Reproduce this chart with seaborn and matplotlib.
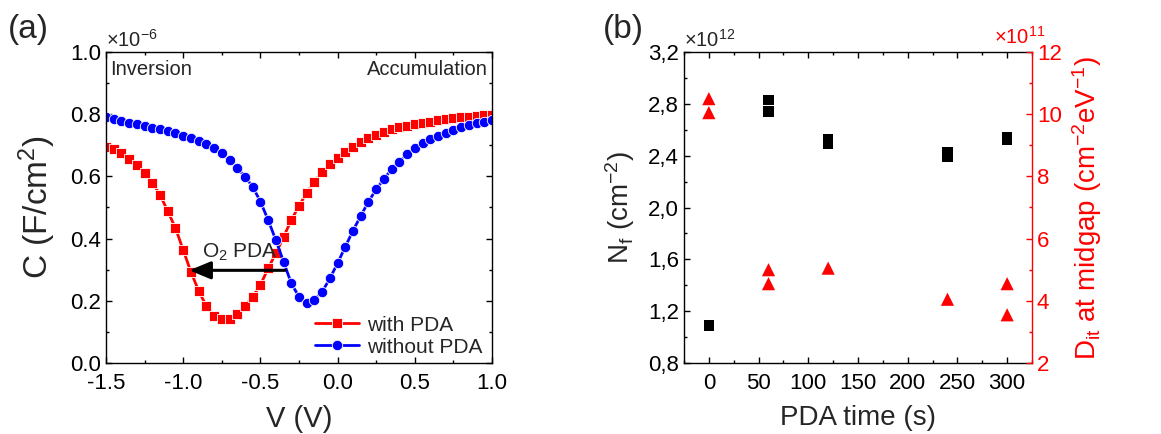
import numpy as np
import matplotlib
matplotlib.use("Agg")
import matplotlib.pyplot as plt
from matplotlib.ticker import MultipleLocator, FuncFormatter
import seaborn as sns

# panel (a): C-V curves, capacitance in units of 1e-6 F/cm2
voltage = [-1.5, -1.45, -1.4, -1.35, -1.3, -1.25, -1.2, -1.15, -1.1, -1.05,
           -1.0, -0.95, -0.9, -0.85, -0.8, -0.75, -0.7, -0.65, -0.6, -0.55,
           -0.5, -0.45, -0.4, -0.35, -0.3, -0.25, -0.2, -0.15, -0.1, -0.05,
           0.0, 0.05, 0.1, 0.15, 0.2, 0.25, 0.3, 0.35, 0.4, 0.45,
           0.5, 0.55, 0.6, 0.65, 0.7, 0.75, 0.8, 0.85, 0.9, 0.95, 1.0]
c_with_pda = [0.696, 0.687, 0.674, 0.656, 0.636, 0.612, 0.580, 0.541, 0.488, 0.434,
              0.363, 0.293, 0.232, 0.183, 0.151, 0.142, 0.143, 0.156, 0.183, 0.213,
              0.251, 0.304, 0.353, 0.405, 0.460, 0.505, 0.548, 0.583, 0.615, 0.640,
              0.658, 0.679, 0.696, 0.710, 0.724, 0.734, 0.742, 0.751, 0.758, 0.763,
              0.768, 0.772, 0.776, 0.780, 0.784, 0.787, 0.790, 0.792, 0.794, 0.796, 0.798]
c_without_pda = [0.790, 0.784, 0.778, 0.773, 0.768, 0.762, 0.757, 0.751, 0.746, 0.739,
                 0.731, 0.722, 0.714, 0.703, 0.690, 0.674, 0.653, 0.627, 0.599, 0.567,
                 0.519, 0.460, 0.395, 0.326, 0.256, 0.213, 0.194, 0.203, 0.229, 0.272,
                 0.321, 0.374, 0.426, 0.473, 0.519, 0.558, 0.592, 0.623, 0.647, 0.671,
                 0.690, 0.706, 0.719, 0.731, 0.741, 0.749, 0.758, 0.765, 0.771, 0.776, 0.780]

# panel (b): fixed charge (1e12 cm-2) and Dit (1e11 cm-2 eV-1) vs PDA time
time_nf = [0, 0, 60, 60, 120, 120, 240, 240, 300, 300]
nf = [1.093, 1.083, 2.83, 2.74, 2.53, 2.49, 2.43, 2.39, 2.54, 2.525]
time_dit = [0, 0, 60, 60, 120, 240, 300, 300]
dit = [10.5, 10.05, 5.0, 4.55, 5.05, 4.05, 4.55, 3.55]

sns.set_theme(style="ticks")
plt.rcParams["font.family"] = ["Liberation Sans", "DejaVu Sans"]
plt.rcParams["mathtext.fontset"] = "custom"
plt.rcParams["mathtext.rm"] = "Liberation Sans"
plt.rcParams["mathtext.it"] = "Liberation Sans:italic"
plt.rcParams["mathtext.bf"] = "Liberation Sans:bold"
plt.rcParams["axes.unicode_minus"] = False
plt.rcParams["axes.linewidth"] = 1.0
plt.rcParams["axes.edgecolor"] = "black"

W, H = 1161, 434
fig = plt.figure(figsize=(W / 100, H / 100), dpi=100)
ax1 = fig.add_axes([106 / W, 1 - 363 / H, 386 / W, 311 / H])
ax2 = fig.add_axes([684 / W, 1 - 363 / H, 348 / W, 311 / H])
ax3 = ax2.twinx()

tick_fs = 16

# ---- (a) ----
sns.lineplot(x=voltage, y=c_with_pda, ax=ax1, color="red", marker="s",
             markersize=6.5, markeredgewidth=0.6, linewidth=2,
             errorbar=None, label="with PDA")
sns.lineplot(x=voltage, y=c_without_pda, ax=ax1, color="blue", marker="o",
             markersize=7.5, markeredgewidth=0.6, linewidth=2,
             errorbar=None, label="without PDA")
ax1.set_xlim(-1.5, 1.0)
ax1.set_ylim(0.0, 1.0)
ax1.xaxis.set_major_locator(MultipleLocator(0.5))
ax1.xaxis.set_minor_locator(MultipleLocator(0.25))
ax1.yaxis.set_major_locator(MultipleLocator(0.2))
ax1.yaxis.set_minor_locator(MultipleLocator(0.1))
ax1.xaxis.set_major_formatter(FuncFormatter(lambda v, p: f"{v:.1f}"))
ax1.yaxis.set_major_formatter(FuncFormatter(lambda v, p: f"{v:.1f}"))
ax1.tick_params(which="both", direction="in", top=True, right=True,
                labelsize=tick_fs, colors="black")
ax1.tick_params(which="major", length=4, width=1)
ax1.tick_params(which="minor", length=2.5, width=1)
ax1.tick_params(axis="x", pad=7)
ax1.set_xlabel("V (V)", fontsize=21, labelpad=8)
ax1.set_ylabel("C (F/cm$^2$)", fontsize=24, labelpad=9)
ax1.text(0.0, 1.005, "×10$^{-6}$", transform=ax1.transAxes, fontsize=14.5,
         ha="left", va="bottom")
ax1.text(0.01, 0.975, "Inversion", transform=ax1.transAxes, fontsize=14.5,
         ha="left", va="top")
ax1.text(0.99, 0.975, "Accumulation", transform=ax1.transAxes, fontsize=14.5,
         ha="right", va="top")
ax1.annotate("", xy=(-0.96, 0.298), xytext=(-0.34, 0.298),
             arrowprops=dict(arrowstyle="-|>,head_length=0.65,head_width=0.27",
                             color="black", lw=2.2, mutation_scale=20,
                             shrinkA=0, shrinkB=0))
ax1.text(-0.88, 0.337, "O$_2$ PDA", fontsize=15, ha="left", va="baseline")
ax1.legend(loc="lower right", frameon=False, fontsize=15, handlelength=2.1,
           handletextpad=0.4, labelspacing=0.15, borderaxespad=0.05,
           bbox_to_anchor=(1.0, -0.01))

# ---- (b) ----
sns.scatterplot(x=time_nf, y=nf, ax=ax2, marker="s", s=55, color="black",
                edgecolor="none", linewidth=0, zorder=3)
sns.scatterplot(x=time_dit, y=dit, ax=ax3, marker="^", s=90, color="red",
                edgecolor="none", linewidth=0, zorder=3)
ax2.set_xlim(-25, 325)
ax2.set_ylim(0.8, 3.2)
ax3.set_ylim(2, 12)
ax2.xaxis.set_major_locator(MultipleLocator(50))
ax2.xaxis.set_minor_locator(MultipleLocator(25))
ax2.yaxis.set_major_locator(MultipleLocator(0.4))
ax2.yaxis.set_minor_locator(MultipleLocator(0.2))
ax3.yaxis.set_major_locator(MultipleLocator(2))
ax3.yaxis.set_minor_locator(MultipleLocator(1))
ax2.yaxis.set_major_formatter(FuncFormatter(lambda v, p: f"{v:.1f}".replace(".", ",")))
ax2.tick_params(which="both", direction="in", top=True, right=False,
                labelsize=tick_fs, colors="black")
ax2.tick_params(which="major", length=4, width=1)
ax2.tick_params(which="minor", length=2.5, width=1)
ax2.tick_params(axis="x", pad=7)
ax3.tick_params(which="both", direction="in", labelsize=tick_fs,
                colors="red", width=1)
ax3.tick_params(which="major", length=4)
ax3.tick_params(which="minor", length=2.5)
ax2.spines["right"].set_visible(False)
for side in ["left", "top", "bottom"]:
    ax3.spines[side].set_visible(False)
ax3.spines["right"].set_color("red")
ax2.set_xlabel("PDA time (s)", fontsize=20, labelpad=8)
ax2.set_ylabel(r"N$_\mathrm{f}$ (cm$^{-2}$)", fontsize=20, labelpad=8)
ax3.set_ylabel(r"D$_\mathrm{it}$ at midgap (cm$^{-2}$eV$^{-1}$)", fontsize=20,
               color="red", labelpad=6)
ax2.text(0.0, 1.005, "×10$^{12}$", transform=ax2.transAxes, fontsize=14.5,
         ha="left", va="bottom")
ax2.text(0.89, 1.015, "×10$^{11}$", transform=ax2.transAxes, fontsize=14.5,
         ha="left", va="bottom", color="red")

fig.text(8 / W, 1 - 14 / H, "(a)", fontsize=24, ha="left", va="top")
fig.text(603 / W, 1 - 14 / H, "(b)", fontsize=24, ha="left", va="top")

fig.savefig("out.png", dpi=100)
